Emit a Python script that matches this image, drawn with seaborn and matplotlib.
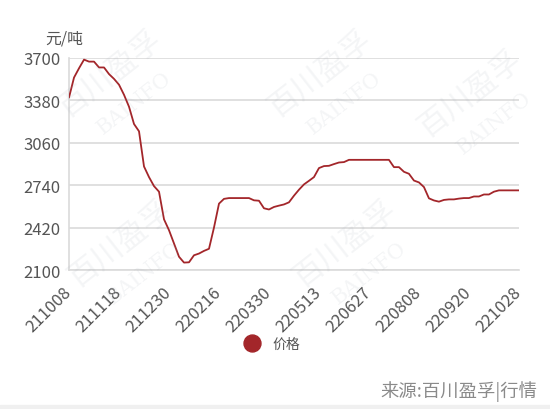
import matplotlib
matplotlib.use('Agg')
import matplotlib.pyplot as plt
import seaborn as sns
import pandas as pd
from matplotlib.lines import Line2D
from matplotlib.patches import Rectangle

# tick dates (every 10th point)
date_labels = ['211008', '211118', '211230', '220216', '220330',
               '220513', '220627', '220808', '220920', '221028']

# price, yuan/ton
price = [3400, 3550, 3620, 3685, 3670, 3670, 3626, 3626, 3576, 3540,
         3496, 3420, 3330, 3200, 3145, 2880, 2800, 2732, 2690, 2482,
         2400, 2300, 2200, 2156, 2158, 2211, 2224, 2244, 2260, 2420,
         2600, 2636, 2642, 2642, 2642, 2642, 2642, 2625, 2622, 2565,
         2556, 2575, 2585, 2594, 2610, 2660, 2705, 2745, 2772, 2800,
         2868, 2883, 2885, 2898, 2910, 2913, 2930, 2930, 2930, 2930,
         2930, 2930, 2930, 2930, 2930, 2875, 2875, 2840, 2825, 2774,
         2760, 2725, 2640, 2624, 2615, 2628, 2632, 2632, 2638, 2642,
         2642, 2654, 2654, 2669, 2669, 2690, 2700, 2700, 2700, 2700,
         2700]

y_ticks = [2100, 2420, 2740, 3060, 3380, 3700]

line_color = '#a3262a'
grid_color = '#dadada'
text_color = '#555555'

sns.set_style('white')
plt.rcParams['font.family'] = ['Noto Sans CJK SC', 'DejaVu Sans']

df = pd.DataFrame({'idx': range(len(price)), 'price': price})

fig = plt.figure(figsize=(5.5, 4.1), dpi=100)
ax = fig.add_axes([0.1255, 0.339, 0.818, 0.518])

sns.lineplot(data=df, x='idx', y='price', color=line_color, linewidth=1.3,
             ax=ax, legend=False, zorder=3)

ax.set_xlim(0, len(price) - 1)
ax.set_ylim(2100, 3700)
ax.set_yticks(y_ticks)
ax.set_xticks(range(0, len(price), 10))
ax.set_xticklabels(date_labels, rotation=45, ha='right', va='center',
                   rotation_mode='anchor')
ax.set_xlabel('')
ax.set_ylabel('')
ax.tick_params(axis='both', length=0, labelsize=12, labelcolor=text_color)
ax.tick_params(axis='y', pad=6)
ax.tick_params(axis='x', pad=14)

ax.grid(axis='y', color=grid_color, linewidth=1.2)
ax.grid(axis='x', visible=False)
for side in ['top', 'right']:
    ax.spines[side].set_visible(False)
for side in ['left', 'bottom']:
    ax.spines[side].set_color(grid_color)
    ax.spines[side].set_linewidth(1.2)

fig.text(0.1164, 0.905, '元/吨', ha='center', va='center', fontsize=11.4,
         color=text_color)

handle = Line2D([], [], marker='o', linestyle='none', markersize=12.2,
                markerfacecolor=line_color, markeredgecolor=line_color)
fig.legend([handle], ['价格'], loc='center', bbox_to_anchor=(0.489, 0.159),
           frameon=False, fontsize=10, handlelength=2, handletextpad=0.44,
           labelcolor=text_color)

fig.text(0.978, 0.044, '来源:百川盈孚|行情', ha='right', va='center',
         fontsize=13.2, color='#8a8a8a')
fig.patches.append(Rectangle((0, 0), 1, 0.01, transform=fig.transFigure,
                             color='#f0f0f0', zorder=0))

# faint watermarks
wm_spots = [(110, 75), (320, 75), (470, 95), (120, 245), (345, 245)]
for px, py in wm_spots:
    fx, fy = px / 550, 1 - py / 410
    fig.text(fx, fy, '百川盈孚', rotation=38, ha='center', va='center',
             fontsize=22, color='#9aa5b1', alpha=0.11, zorder=1)
    fig.text(fx + 0.045, fy - 0.07, 'BAINFO', rotation=38, ha='center',
             va='center', fontsize=15, family='DejaVu Serif',
             color='#9aa5b1', alpha=0.11, zorder=1)

fig.savefig('out.png', dpi=100)
plt.close(fig)
